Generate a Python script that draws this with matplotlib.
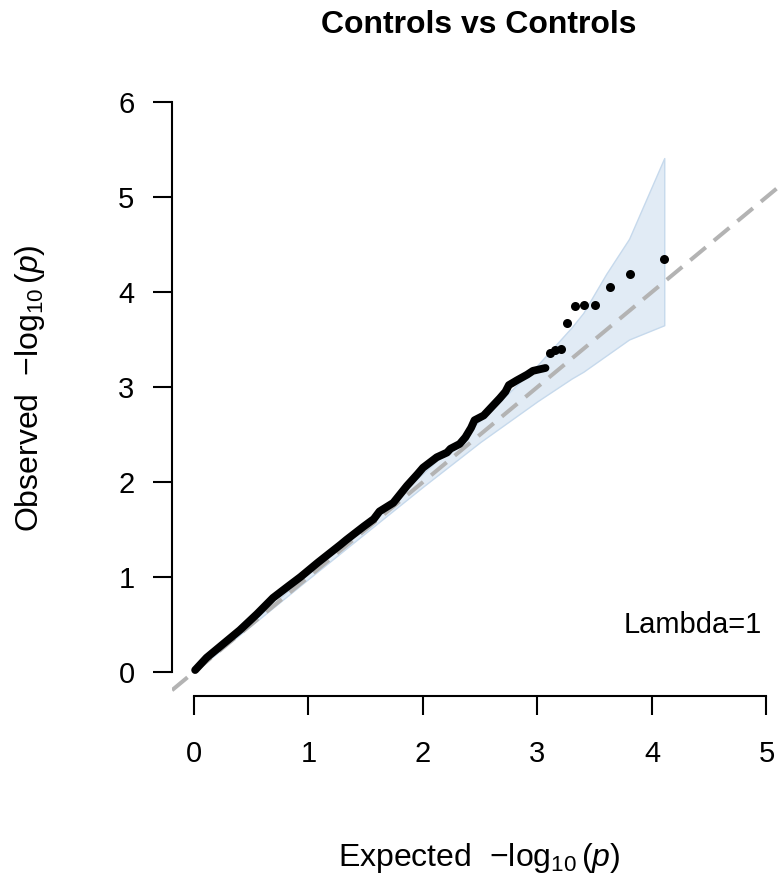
import matplotlib
matplotlib.use("Agg")
import matplotlib.pyplot as plt

plt.rcParams['font.family'] = ['Liberation Sans', 'DejaVu Sans']
plt.rcParams['mathtext.fontset'] = 'custom'
plt.rcParams['mathtext.rm'] = 'Liberation Sans'
plt.rcParams['mathtext.it'] = 'Liberation Sans:italic'

# dense part of the QQ curve (expected, observed)
exp_dense = [0.01, 0.11, 0.26, 0.40, 0.55, 0.69, 0.82, 0.93, 1.08, 1.28, 1.33,
             1.48, 1.57, 1.62, 1.74, 1.86, 1.95, 2.00, 2.12, 2.21, 2.24, 2.32,
             2.37, 2.42, 2.45, 2.53, 2.60, 2.67, 2.72, 2.75, 2.82, 2.91, 2.96,
             3.07]
obs_dense = [0.02, 0.15, 0.30, 0.44, 0.61, 0.78, 0.90, 1.00, 1.15, 1.34, 1.39,
             1.53, 1.61, 1.69, 1.78, 1.96, 2.08, 2.15, 2.26, 2.31, 2.35, 2.40,
             2.47, 2.57, 2.65, 2.70, 2.79, 2.88, 2.95, 3.02, 3.07, 3.13, 3.17,
             3.20]

# the ten most extreme points
exp_top = [4.107, 3.806, 3.630, 3.505, 3.408, 3.329, 3.262, 3.204, 3.153, 3.107]
obs_top = [4.35, 4.19, 4.05, 3.86, 3.86, 3.85, 3.67, 3.40, 3.39, 3.36]

# confidence band
band_x = [0.0, 1.0, 2.0, 2.5, 3.0, 3.3, 3.4, 3.6, 3.8, 4.107]
band_hi = [0.0, 1.04, 2.09, 2.65, 3.23, 3.63, 3.78, 4.19, 4.56, 5.41]
band_lo = [0.0, 0.98, 1.95, 2.42, 2.85, 3.09, 3.16, 3.33, 3.50, 3.65]

x_ticks = [0, 1, 2, 3, 4, 5]
y_ticks = [0, 1, 2, 3, 4, 5, 6]
lambda_text = "Lambda=1"

W, H = 778, 884
fig = plt.figure(figsize=(W / 100, H / 100), dpi=100)
ax = fig.add_axes([172 / W, 1 - 696 / H, 1 - 172 / W, (696 - 50) / H])
ax.set_xlim(-0.192, (W - 194) / 114.5)
ax.set_ylim(-0.253, (672 - 50) / 95)

ax.fill_between(band_x, band_lo, band_hi, facecolor='#e1ebf5',
                edgecolor='#c6d9ec', linewidth=1.0, zorder=1)
ax.axline((0, 0), slope=1, color='#b3b3b3', lw=2.9, dashes=(5, 2.6),
          dash_capstyle='butt', zorder=2)
ax.plot(exp_dense, obs_dense, '-', color='black', lw=5.6,
        solid_capstyle='round', solid_joinstyle='round', zorder=3)
ax.plot(exp_top, obs_top, 'o', color='black', ms=6.5, mew=0, zorder=3)

for s in ['top', 'right']:
    ax.spines[s].set_visible(False)
ax.spines['left'].set_bounds(0, 6)
ax.spines['bottom'].set_bounds(0, 5)
for s in ['left', 'bottom']:
    ax.spines[s].set_linewidth(1.5)
ax.set_xticks(x_ticks)
ax.set_yticks(y_ticks)
ax.tick_params(axis='both', direction='out', length=14, width=1.5,
               labelsize=21)
ax.tick_params(axis='x', pad=18)
ax.tick_params(axis='y', pad=13)
ax.patch.set_visible(False)

fig.text(479 / W, 1 - 33 / H, 'Controls vs Controls', ha='center',
         va='baseline', fontsize=23, fontweight='bold')
fig.text(479 / W, 1 - 866 / H, r'Expected  $-\log_{10}(p)$', ha='center',
         va='baseline', fontsize=23)
fig.text(30 / W, 1 - 388 / H, r'Observed  $-\log_{10}(p)$', rotation=90,
         ha='center', va='center', fontsize=23)
fig.text(762 / W, 1 - 633 / H, lambda_text, ha='right', va='baseline',
         fontsize=21)

fig.savefig('out.png', dpi=100)
